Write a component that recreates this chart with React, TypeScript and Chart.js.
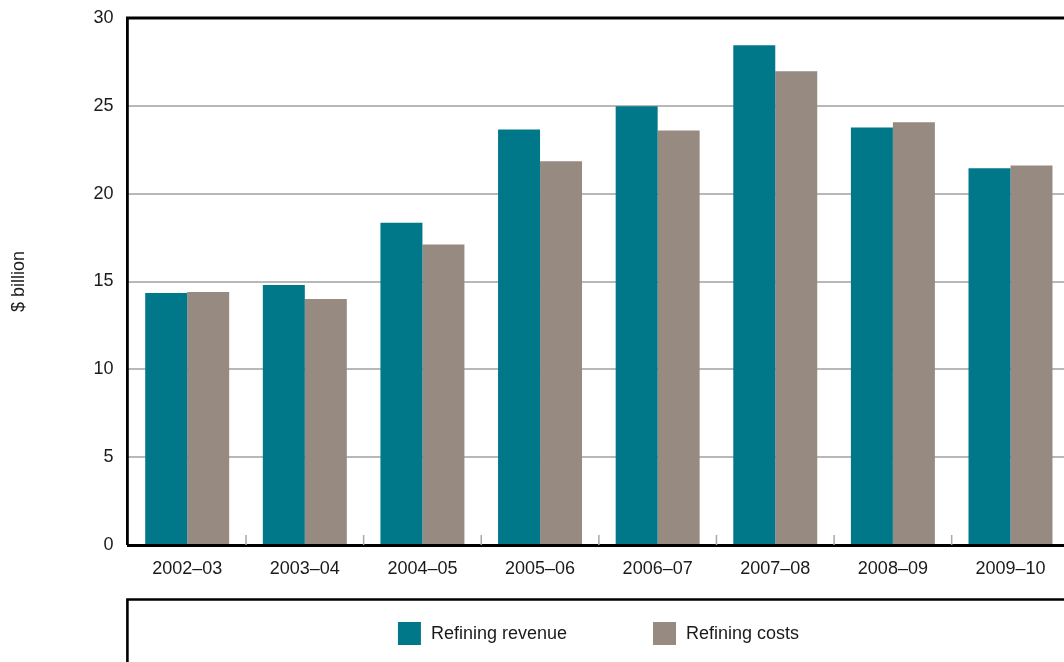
import React, { useEffect, useRef } from "react";
import { Chart, registerables } from "chart.js";

Chart.register(...registerables);

const categories = ["2002–03", "2003–04", "2004–05", "2005–06", "2006–07", "2007–08", "2008–09", "2009–10"];
const revenue = [14.35, 14.8, 18.35, 23.65, 24.97, 28.45, 23.77, 21.44];
const costs = [14.4, 14.0, 17.1, 21.84, 23.6, 26.97, 24.06, 21.6];
const seriesLabels = ["Refining revenue", "Refining costs"];
const seriesColors = ["#00788A", "#978A81"];
const yTicks = [0, 5, 10, 15, 20, 25, 30];
const yTitle = "$ billion";

const FONT = "'Liberation Sans', Arial, Helvetica, sans-serif";

const decorPlugin = {
  id: "decor",
  afterDatasetsDraw(chart: any) {
    const { ctx, chartArea } = chart;
    const x = chart.scales.x;
    ctx.save();
    ctx.strokeStyle = "#a8a8a8";
    ctx.lineWidth = 1.5;
    const n = chart.data.labels.length;
    for (let i = 1; i < n; i++) {
      const px = (x.getPixelForValue(i - 1) + x.getPixelForValue(i)) / 2;
      ctx.beginPath();
      ctx.moveTo(px, chartArea.bottom - 10);
      ctx.lineTo(px, chartArea.bottom);
      ctx.stroke();
    }
    ctx.restore();
  },
  afterDraw(chart: any) {
    const { ctx, chartArea, width } = chart;
    ctx.save();
    ctx.strokeStyle = "#000";
    ctx.lineWidth = 2.8;
    ctx.beginPath();
    ctx.moveTo(chartArea.left - 1, chartArea.bottom);
    ctx.lineTo(chartArea.left - 1, chartArea.top);
    ctx.lineTo(width, chartArea.top);
    ctx.stroke();

    const boxTop = 599.5;
    ctx.lineWidth = 2.6;
    ctx.beginPath();
    ctx.moveTo(chartArea.left - 1, chart.height + 5);
    ctx.lineTo(chartArea.left - 1, boxTop);
    ctx.lineTo(width, boxTop);
    ctx.stroke();

    ctx.font = `18px ${FONT}`;
    ctx.textBaseline = "middle";
    ctx.textAlign = "left";
    const sq = 23;
    const gapText = 10;
    const gapItem = 86;
    const ds = chart.data.datasets;
    const widths = ds.map((d: any) => sq + gapText + ctx.measureText(d.label).width);
    const total = widths.reduce((a: number, b: number) => a + b, 0) + gapItem * (ds.length - 1);
    const cx = 598.5;
    let lx = cx - total / 2;
    const cy = 633.5;
    ds.forEach((d: any, i: number) => {
      ctx.fillStyle = d.backgroundColor;
      ctx.fillRect(lx, cy - sq / 2, sq, sq);
      ctx.fillStyle = "#1a1a1a";
      ctx.fillText(d.label, lx + sq + gapText, cy + 1);
      lx += widths[i] + gapItem;
    });
    ctx.restore();
  },
};

export default function App() {
  const ref = useRef<HTMLCanvasElement>(null);
  useEffect(() => {
    document.documentElement.style.overflow = "hidden";
    document.body.style.overflow = "hidden";
    const chart = new Chart(ref.current!, {
      type: "bar",
      data: {
        labels: categories,
        datasets: [
          { label: seriesLabels[0], data: revenue, backgroundColor: seriesColors[0], borderWidth: 0 },
          { label: seriesLabels[1], data: costs, backgroundColor: seriesColors[1], borderWidth: 0 },
        ],
      },
      options: {
        animation: false,
        responsive: true,
        maintainAspectRatio: false,
        layout: { autoPadding: false, padding: { left: 0, top: 18, right: 10.7, bottom: 0 } },
        plugins: { legend: { display: false }, tooltip: { enabled: false } },
        datasets: { bar: { categoryPercentage: 0.714, barPercentage: 1.0 } },
        scales: {
          x: {
            grid: { display: false, drawTicks: false },
            border: { display: true, color: "#000", width: 3 },
            ticks: { color: "#1a1a1a", font: { family: FONT, size: 18 }, padding: 13, maxRotation: 0, autoSkip: false },
            afterFit: (s: any) => { s.height = 117; s.paddingLeft = 0; s.paddingRight = 0; },
          },
          y: {
            min: 0,
            max: 30,
            afterBuildTicks: (s: any) => { s.ticks = yTicks.map((v) => ({ value: v })); },
            grid: { color: "#b8b8b8", lineWidth: 2, drawTicks: false },
            border: { display: false },
            ticks: { color: "#1a1a1a", font: { family: FONT, size: 18 }, padding: 15 },
            title: { display: true, text: yTitle, color: "#1a1a1a", font: { family: FONT, size: 18 }, padding: { top: 8, bottom: 0 } },
            afterFit: (s: any) => { s.width = 128.4; s.paddingTop = 0; s.paddingBottom = 0; },
          },
        },
      },
      plugins: [decorPlugin],
    });
    return () => chart.destroy();
  }, []);
  return (
    <div style={{ position: "absolute", left: 0, top: 0, width: 1080, height: 662 }}>
      <canvas ref={ref} />
    </div>
  );
}
